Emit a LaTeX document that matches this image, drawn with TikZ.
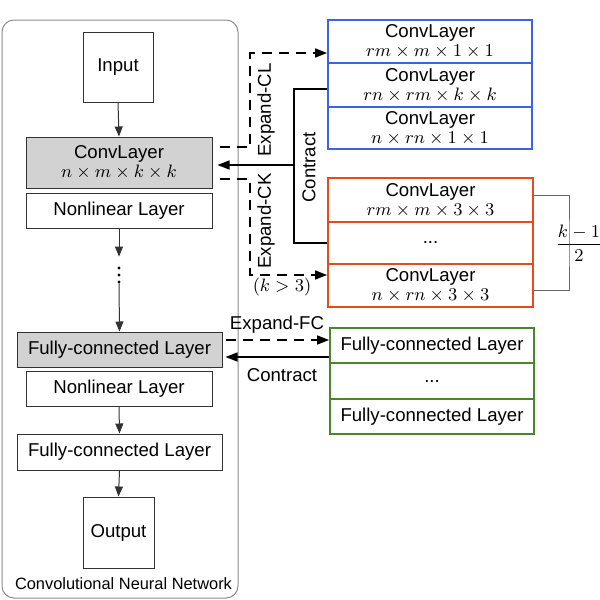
\documentclass[tikz,border=0pt]{standalone}
\usepackage{fontspec}
\setmainfont{Liberation Sans}
\usetikzlibrary{arrows.meta,calc}
\definecolor{cblue}{RGB}{60,100,225}
\definecolor{cred}{RGB}{230,75,30}
\definecolor{cgreen}{RGB}{75,135,40}
\definecolor{cfill}{RGB}{210,210,210}
\definecolor{cline}{RGB}{50,50,50}
\begin{document}
\begin{tikzpicture}[x=0.5pt,y=-0.5pt,
  font=\fontsize{9.3}{9.6}\selectfont,
  box/.style={draw=cline, line width=0.5pt, align=center, inner sep=0pt},
  gbox/.style={box, fill=cfill},
  bbox/.style={draw=cblue, line width=0.9pt, align=center, inner sep=0pt, minimum width=102pt},
  rbox/.style={draw=cred, line width=0.9pt, align=center, inner sep=0pt, minimum width=102.5pt},
  fbox/.style={draw=cgreen, line width=0.9pt, align=center, inner sep=0pt, minimum width=102pt},
  sarrow/.style={draw=cline, line width=0.5pt, -{Triangle[length=5pt,width=4pt]}},
  conn/.style={draw=black, line width=0.75pt},
  carrow/.style={conn, -{Triangle[length=6pt,width=4.5pt]}},
  dsh/.style={dash pattern=on 5pt off 3.5pt},
  lbl/.style={inner sep=0pt}
]
\useasboundingbox (0,0) rectangle (600,600);
% outer container
\draw[draw=black!45, line width=0.5pt, rounded corners=6pt] (2,20) rectangle (238,598);
\node[lbl, font=\fontsize{8.2}{9}\selectfont] (cnnlabel) at (123.5,584) {Convolutional Neural Network};

% left column
\node[box, minimum width=35pt, minimum height=35pt] (input) at (118,67) {Input};
\node[gbox, minimum width=93pt, minimum height=25.5pt] (conv) at (119,162.5) {ConvLayer\\$n\times m\times k\times k$};
\node[box, minimum width=93pt, minimum height=17.5pt] (nl1) at (119,210.5) {Nonlinear Layer};
\node[inner sep=0pt, minimum width=4pt, minimum height=13pt] (dots) at (119,270) {};
\fill[black] (119,268) circle (0.8pt) (119,275) circle (0.8pt) (119,282) circle (0.8pt);
\node[gbox, minimum width=102.5pt, minimum height=17.5pt] (fc1) at (119.5,349.5) {Fully-connected Layer};
\node[box, minimum width=93pt, minimum height=17.5pt] (nl2) at (119,388.5) {Nonlinear Layer};
\node[box, minimum width=102.5pt, minimum height=18pt] (fc2) at (119.5,452) {Fully-connected Layer};
\node[box, minimum width=35.5pt, minimum height=35.5pt] (output) at (118.5,532.5) {Output};

\draw[sarrow] (input.south) -- (conv.north);
\draw[sarrow] (nl1.south) -- (dots.north);
\draw[sarrow] (dots.south) -- (fc1.north);
\draw[sarrow] (nl2.south) -- (fc2.north);
\draw[sarrow] (fc2.south) -- (output.north);

% blue group
\node[bbox, minimum height=21.5pt] (b1) at (430,41.5) {ConvLayer\\$rm\times m\times 1\times 1$};
\node[bbox, minimum height=22pt] (b2) at (430,85) {ConvLayer\\$rn\times rm\times k\times k$};
\node[bbox, minimum height=21pt] (b3) at (430,128) {ConvLayer\\$n\times rn\times 1\times 1$};

% red group
\node[rbox, minimum height=22pt] (r1) at (430.5,200) {ConvLayer\\$rm\times m\times 3\times 3$};
\node[rbox, minimum height=21pt] (r2) at (430.5,243) {...};
\node[rbox, minimum height=21.5pt] (r3) at (430.5,285.5) {ConvLayer\\$n\times rn\times 3\times 3$};

% green group
\node[fbox, minimum height=17.5pt] (g1) at (432,345.5) {Fully-connected Layer};
\node[fbox, minimum height=18pt] (g2) at (432,381) {...};
\node[fbox, minimum height=17.5pt] (g3) at (432,416.5) {Fully-connected Layer};

% brace for k-1 over 2
\coordinate (brx) at (569,243);
\draw[draw=black!60, line width=0.5pt] ($(r1.east)+(0,-5)$) -| (brx) |- ($(r3.east)+(0,4.5)$);
\node[lbl] (frac) at (579,243) {$\displaystyle\frac{k-1}{2}$};

% Expand-CL
\coordinate (clv) at (250,53);
\draw[carrow, dsh] ($(conv.east)+(7,-15.5)$) -| (clv) -- ($(b1.west)+(0,11.5)$);
\node[lbl, rotate=90] (lcl) at (266,110) {Expand-CL};

% Expand-CK
\coordinate (ckv) at (250,275);
\draw[carrow, dsh] ($(conv.east)+(7,16.5)$) -| (ckv) -- ($(r3.west)+(0,-10.5)$);
\node[lbl, rotate=90] (lck) at (266,221) {Expand-CK};
\node[lbl] (kgt) at (282,287) {$(k>3)$};

% Contract (conv)
\coordinate (cj) at (294,165);
\draw[conn] ($(b2.west)+(0,4)$) -| (cj) |- (r2.west);
\draw[carrow] (cj) -- ($(conv.east)+(5,2.5)$);
\node[lbl, rotate=90] (lct) at (309,167.5) {Contract};

% Expand-FC / Contract (fc)
\draw[carrow, dsh] ($(fc1.east)+(3,-9.5)$) -- ($(g1.west)+(0,-5.5)$);
\node[lbl] (lfc) at (277,325) {Expand-FC};
\draw[carrow] ($(g1.west)+(0,11.5)$) -- ($(fc1.east)+(3,7.5)$);
\node[lbl] (lfcc) at (282,375) {Contract};
\end{tikzpicture}
\end{document}
